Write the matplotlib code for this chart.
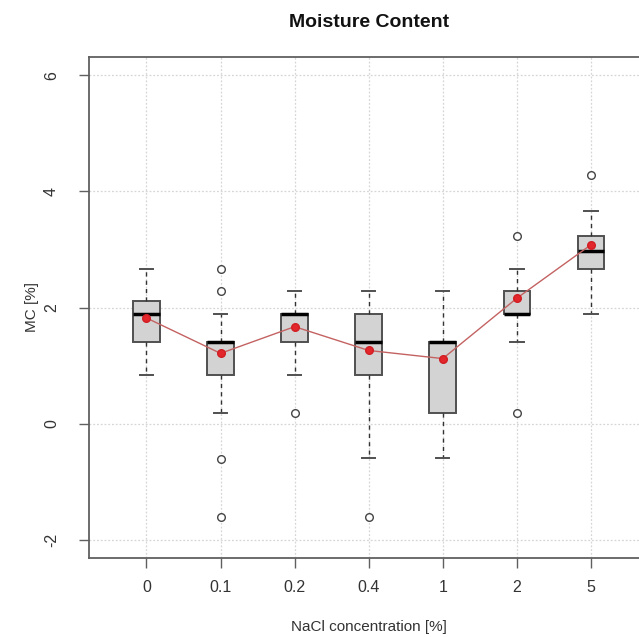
import matplotlib
matplotlib.use("Agg")
import matplotlib.pyplot as plt

plt.rcParams["font.family"] = ["Liberation Sans", "DejaVu Sans"]

# NaCl concentration groups and their box statistics (MC [%])
groups = ["0", "0.1", "0.2", "0.4", "1", "2", "5"]
q1 = [1.41, 0.84, 1.41, 0.84, 0.18, 1.89, 2.67]
medians = [1.89, 1.41, 1.89, 1.41, 1.41, 1.89, 2.97]
q3 = [2.11, 1.41, 1.89, 1.89, 1.41, 2.29, 3.23]
whisker_low = [0.84, 0.18, 0.84, -0.60, -0.60, 1.41, 1.89]
whisker_high = [2.66, 1.89, 2.29, 2.29, 2.29, 2.66, 3.67]
outliers = [[], [2.66, 2.29, -0.61, -1.61], [0.18], [-1.61], [], [3.24, 0.18], [4.29]]
means = [1.82, 1.21, 1.67, 1.26, 1.12, 2.16, 3.08]
yticks = [-2, 0, 2, 4, 6]

W, H = 639, 637
fig = plt.figure(figsize=(W / 100, H / 100), dpi=100)
left, right, top, bottom = 88.7, 648.7, 56.7, 558.3
ax = fig.add_axes([left / W, 1 - bottom / H, (right - left) / W, (bottom - top) / H])

positions = list(range(1, len(groups) + 1))
stats = []
for i in range(len(groups)):
    stats.append({
        "label": groups[i],
        "q1": q1[i], "med": medians[i], "q3": q3[i],
        "whislo": whisker_low[i], "whishi": whisker_high[i],
        "fliers": outliers[i],
    })

edge = "#505050"
ax.bxp(
    stats, positions=positions, widths=0.36, patch_artist=True,
    showfliers=True, capwidths=0.18,
    boxprops=dict(facecolor="#d3d3d3", edgecolor=edge, linewidth=1.4),
    medianprops=dict(color="black", linewidth=2.5, solid_capstyle="butt"),
    whiskerprops=dict(color="#333333", linewidth=1.0, linestyle=(0, (3, 3))),
    capprops=dict(color=edge, linewidth=1.4),
    flierprops=dict(marker="o", markersize=5.5, markerfacecolor="white",
                    markeredgecolor="#444444", markeredgewidth=1.0),
    zorder=3,
)

# Group means joined by a line
ax.plot(positions, means, color="#c46262", linewidth=1.0, zorder=4)
ax.plot(positions, means, linestyle="none", marker="o", markersize=5.5,
        markerfacecolor="#e3262b", markeredgecolor="#d01f25", zorder=5)

ax.set_xlim(0.22, 7.78)
ax.set_ylim(-2.32, 6.32)
ax.set_xticks(positions)
ax.set_xticklabels(groups)
ax.set_yticks(yticks)
ax.set_yticklabels([str(v) for v in yticks])

ax.grid(True, color="#d6d6d6", linestyle=(0, (1.5, 1.5)), linewidth=0.9, zorder=0)
ax.set_axisbelow(True)

for s in ax.spines.values():
    s.set_color("#606060")
    s.set_linewidth(1.3)

ax.tick_params(axis="both", length=7, width=1.0, color="#606060",
               labelsize=11.5, labelcolor="#333333")
ax.tick_params(axis="x", pad=14)
ax.tick_params(axis="y", pad=19.7)
for lab in ax.get_xticklabels():
    lab.set_va("center")
for lab in ax.get_yticklabels():
    lab.set_rotation(90)
    lab.set_ha("center")
    lab.set_va("center")

ax.set_xlabel("NaCl concentration [%]", fontsize=11, color="#333333")
ax.xaxis.label.set_va("center")
ax.xaxis.set_label_coords(0.5, -(627 - bottom) / (bottom - top))
ax.set_ylabel("MC [%]", fontsize=11, color="#333333")
ax.yaxis.label.set_va("center")
ax.yaxis.set_label_coords((31.7 - left) / (right - left), 0.5)

ax.text(0.5, 1 + (top - 22) / (bottom - top), "Moisture Content",
        transform=ax.transAxes, ha="center", va="center",
        fontsize=14, fontweight="bold", color="#111111")

fig.savefig("out.png", dpi=100)
